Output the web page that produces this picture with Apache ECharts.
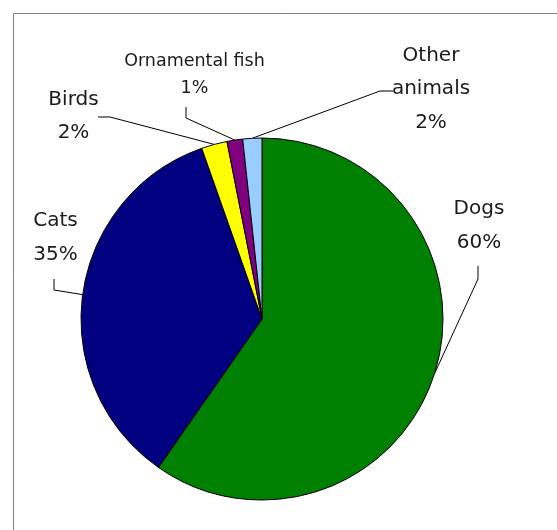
<!DOCTYPE html>
<html>
<head>
<meta charset="utf-8">
<script src="https://cdn.jsdelivr.net/npm/echarts@6/dist/echarts.min.js"></script>
<style>
html,body{margin:0;padding:0;background:#fff;}
#chart{width:557px;height:530px;}
</style>
</head>
<body>
<div id="chart"></div>
<script>
// Data
var categories = ['Dogs', 'Cats', 'Birds', 'Ornamental fish', 'Other animals'];
var labelNames = ['Dogs', 'Cats', 'Birds', 'Ornamental fish', 'Other\nanimals'];
var shares = [59.7, 34.9, 2.3, 1.4, 1.7];
var colors = ['#008000', '#000080', '#FFFF00', '#800080', '#99CCFF'];

// Label layout (positions of the text blocks and leader line bends)
var labelPos = [
  {x: 479, y: 226, bend: [[478, 279], [478, 266]]},
  {x: 55.5, y: 238, bend: [[54, 290], [54, 279]]},
  {x: 73.5, y: 116.5, bend: [[110, 117], [98, 117]]},
  {x: 194.5, y: 74.5, bend: [[186, 118], [186, 107]]},
  {x: 431, y: 89, bend: [[380, 91], [393, 91]]}
];

var chart = echarts.init(document.getElementById('chart'), null, {renderer: 'canvas'});

var data = categories.map(function (c, i) {
  var small = c === 'Ornamental fish';
  return {
    name: c,
    value: shares[i],
    itemStyle: {color: colors[i]},
    label: {
      fontSize: small ? 17.5 : 20,
      lineHeight: small ? 27 : 33.5
    }
  };
});

chart.setOption({
  animation: false,
  backgroundColor: '#fff',
  graphic: [{
    type: 'rect',
    shape: {x: 13.5, y: 13.5, width: 800, height: 800},
    style: {fill: 'none', stroke: '#808080', lineWidth: 1},
    silent: true
  }],
  series: [{
    type: 'pie',
    center: [262, 319],
    radius: 181,
    startAngle: 90,
    clockwise: true,
    data: data,
    itemStyle: {borderColor: '#000', borderWidth: 1},
    emphasis: {disabled: true},
    label: {
      show: true,
      fontFamily: 'DejaVu Sans',
      color: '#1a1a1a',
      align: 'center',
      overflow: 'none',
      width: 200,
      formatter: function (p) {
        return labelNames[p.dataIndex] + '\n' + Math.round(p.percent) + '%';
      }
    },
    labelLine: {
      show: true,
      lineStyle: {color: '#000', width: 1}
    },
    labelLayout: function (params) {
      var lp = labelPos[params.dataIndex];
      var pts = params.labelLinePoints;
      var start = pts ? pts[0] : [0, 0];
      return {
        x: lp.x,
        y: lp.y,
        align: 'center',
        verticalAlign: 'middle',
        labelLinePoints: [start, lp.bend[0], lp.bend[1]]
      };
    }
  }]
});
</script>
</body>
</html>
